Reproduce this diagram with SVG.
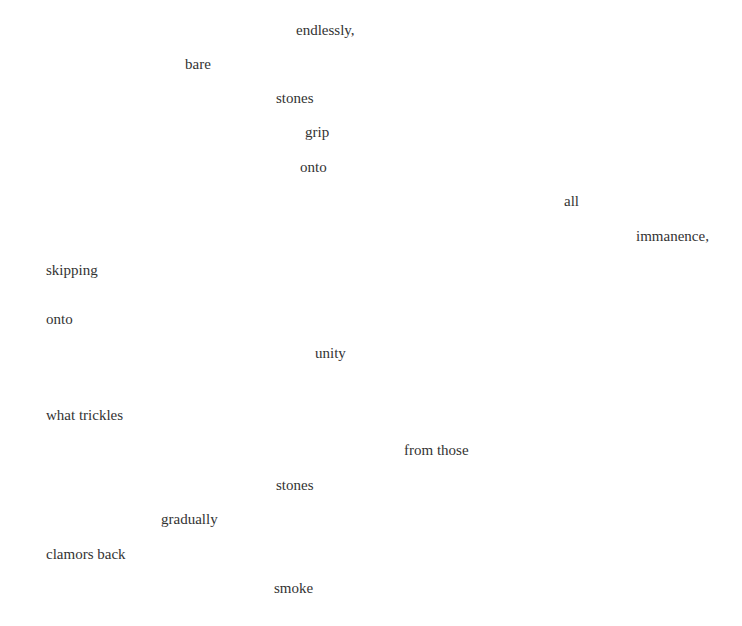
<svg xmlns="http://www.w3.org/2000/svg" width="742" height="626" viewBox="0 0 742 626">
<style>
text { font-family: "Liberation Serif", "Times New Roman", serif; font-size: 15px; fill: #333333; }
</style>
<rect width="742" height="626" fill="#ffffff"/>
<g id="poem">
<text x="296" y="35">endlessly,</text>
<text x="185" y="69">bare</text>
<text x="276" y="103">stones</text>
<text x="305" y="137">grip</text>
<text x="300" y="172">onto</text>
<text x="564" y="206">all</text>
<text x="636" y="241">immanence,</text>
<text x="46" y="275">skipping</text>
<text x="46" y="324">onto</text>
<text x="315" y="358">unity</text>
<text x="46" y="420">what trickles</text>
<text x="404" y="455">from those</text>
<text x="276" y="490">stones</text>
<text x="161" y="524">gradually</text>
<text x="46" y="559">clamors back</text>
<text x="274" y="593">smoke</text>
</g>
</svg>
